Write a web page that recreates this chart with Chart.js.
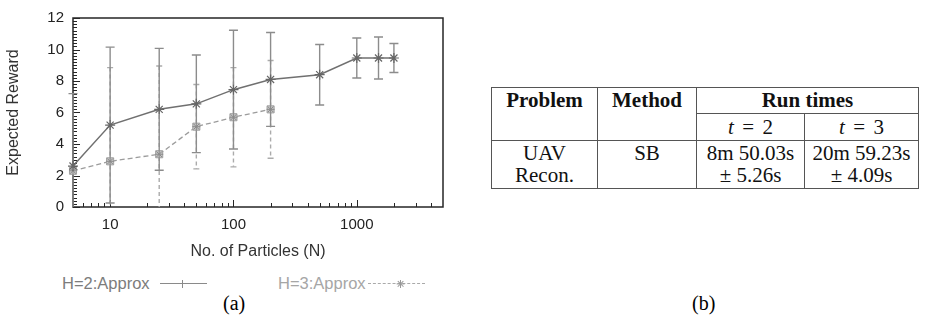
<!DOCTYPE html>
<html>
<head>
<meta charset="utf-8">
<script src="https://cdn.jsdelivr.net/npm/chart.js@4.4.1/dist/chart.umd.min.js"></script>
<style>
body { margin: 0; background: #fff; width: 942px; height: 318px; position: relative; overflow: hidden; font-family: "Liberation Sans", Arial, sans-serif; }
#wrap { position: absolute; left: 0; top: 0; width: 460px; height: 262px; }
.leg { position: absolute; top: 273px; font-size: 16.5px; line-height: 20px; white-space: nowrap; }
.sample { position: absolute; top: 283px; height: 0; }
.mk { position: absolute; width: 1.2px; height: 8px; top: -4px; }
.cap { position: absolute; top: 291px; font-family: "Liberation Serif", "Times New Roman", serif; font-size: 20px; line-height: 24px; }
#tbl { position: absolute; left: 491px; top: 87px; border-collapse: collapse; table-layout: fixed;
       font-family: "Liberation Serif", "Times New Roman", serif; font-size: 21px; color: #111; }
#tbl td, #tbl th { border: 1px solid #555; text-align: center; padding: 0; }
#tbl th { font-weight: bold; vertical-align: top; line-height: 25px; }
#tbl .r2 td { line-height: 26px; }
#tbl .r3 td { vertical-align: top; line-height: 22px; padding: 1px 0 2px; }
.eq { margin: 0 0.4em; }
</style>
</head>
<body>
<div id="wrap"><canvas id="canvasReward"></canvas></div>

<div class="leg" style="left:62px;color:#7c7c7c">H=2:Approx</div>
<div class="sample" style="left:160px;width:47px;border-top:1.5px solid #8a8a8a">
  <span class="mk" style="left:22px;background:#8a8a8a"></span>
</div>
<div class="leg" style="left:278px;color:#a6a6a6">H=3:Approx</div>
<div class="sample" style="left:368px;width:57px;border-top:1.5px dashed #aaa">
  <span class="mk" style="left:32px;background:#999"></span>
  <span class="mk" style="left:32px;background:#999;transform:rotate(45deg)"></span>
  <span class="mk" style="left:32px;background:#999;transform:rotate(90deg)"></span>
  <span class="mk" style="left:32px;background:#999;transform:rotate(135deg)"></span>
</div>

<div class="cap" style="left:223px">(a)</div>
<div class="cap" style="left:692px">(b)</div>

<table id="tbl">
  <colgroup><col style="width:106px"><col style="width:99px"><col style="width:108px"><col style="width:114px"></colgroup>
  <tr style="height:26px"><th rowspan="2">Problem</th><th rowspan="2">Method</th><th colspan="2">Run times</th></tr>
  <tr class="r2" style="height:27px"><td><i>t</i><span class="eq">=</span>2</td><td><i>t</i><span class="eq">=</span>3</td></tr>
  <tr class="r3" style="height:47px"><td>UAV<br>Recon.</td><td>SB</td><td>8m 50.03s<br>± 5.26s</td><td>20m 59.23s<br>± 4.09s</td></tr>
</table>

<script>
// values
var particles = [5, 10, 25, 50, 100, 200, 500, 1000, 1500, 2000];
var rewardH2 = [2.6, 5.2, 6.2, 6.55, 7.45, 8.1, 8.4, 9.46, 9.46, 9.46];
var errH2    = [4.6, 4.95, 3.87, 3.1, 3.77, 2.98, 1.92, 1.27, 1.33, 0.92];
var rewardH3 = [2.3, 2.9, 3.35, 5.1, 5.7, 6.2, null, null, null, null];
var errH3    = [0, 5.95, 5.6, 2.68, 3.15, 3.1, null, null, null, null];

var xTickLabels = [10, 100, 1000];
var xMinorTicks = [6, 7, 8, 9, 20, 30, 40, 50, 60, 70, 80, 90,
                   200, 300, 400, 500, 600, 700, 800, 900, 2000, 3000, 4000];
var yMin = 0, yMax = 12, yStep = 2, yMinorStep = 0.2;

function points(ys) {
    var out = [];
    for (var i = 0; i < particles.length; i++) {
        if (ys[i] !== null) out.push({x: particles[i], y: ys[i]});
    }
    return out;
}

function drawBars(ctx, xs, ys, vals, errs, color, dash, capW) {
    ctx.strokeStyle = color;
    ctx.lineWidth = 1.4;
    for (var i = 0; i < particles.length; i++) {
        if (vals[i] === null || !errs[i]) continue;
        var px = xs.getPixelForValue(particles[i]);
        var top = ys.getPixelForValue(vals[i] + errs[i]);
        var bot = ys.getPixelForValue(vals[i] - errs[i]);
        ctx.setLineDash(dash);
        ctx.beginPath();
        ctx.moveTo(px, top); ctx.lineTo(px, bot);
        ctx.stroke();
        ctx.setLineDash([]);
        ctx.beginPath();
        ctx.moveTo(px - capW, top); ctx.lineTo(px + capW, top);
        ctx.moveTo(px - capW, bot); ctx.lineTo(px + capW, bot);
        ctx.stroke();
    }
}

var frameAndBars = {
    id: 'frameAndBars',
    beforeDatasetsDraw: function(chart) {
        var ctx = chart.ctx, a = chart.chartArea;
        var xs = chart.scales.x, ys = chart.scales.y;
        ctx.save();
        // frame
        ctx.strokeStyle = '#262626';
        ctx.lineWidth = 1.5;
        ctx.strokeRect(a.left, a.top, a.right - a.left, a.bottom - a.top);
        // inward ticks
        ctx.lineWidth = 1;
        ctx.beginPath();
        for (var v = yMin; v <= yMax + 0.001; v += yMinorStep) {
            var py = Math.round(ys.getPixelForValue(v)) + 0.5;
            var major = Math.abs(v / yStep - Math.round(v / yStep)) < 0.01;
            ctx.moveTo(a.left, py); ctx.lineTo(a.left + (major ? 7 : 4), py);
        }
        xTickLabels.forEach(function(t) {
            var px = Math.round(xs.getPixelForValue(t)) + 0.5;
            ctx.moveTo(px, a.bottom); ctx.lineTo(px, a.bottom - 7);
        });
        xMinorTicks.forEach(function(t) {
            var px = Math.round(xs.getPixelForValue(t)) + 0.5;
            ctx.moveTo(px, a.bottom); ctx.lineTo(px, a.bottom - 4);
        });
        ctx.stroke();
        // error bars
        ctx.beginPath();
        ctx.rect(a.left - 8, a.top, a.right - a.left + 16, a.bottom - a.top);
        ctx.clip();
        drawBars(ctx, xs, ys, rewardH3, errH3, '#ababab', [4, 3], 3);
        drawBars(ctx, xs, ys, rewardH2, errH2, '#8c8c8c', [], 4.5);
        ctx.restore();
    }
};

var ctx = document.getElementById('canvasReward').getContext('2d');
new Chart(ctx, {
    type: 'line',
    data: {
        datasets: [
            {
                label: 'H=2:Approx',
                data: points(rewardH2),
                borderColor: '#707070',
                borderWidth: 1.5,
                pointStyle: 'star',
                pointRadius: 5,
                pointBorderColor: '#666',
                pointBorderWidth: 1.2,
                lineTension: 0,
                clip: false
            },
            {
                label: 'H=3 marks',
                data: points(rewardH3),
                showLine: false,
                pointStyle: 'star',
                pointRadius: 4,
                pointBorderColor: '#8a8a8a',
                pointBorderWidth: 1,
                clip: false
            },
            {
                label: 'H=3:Approx',
                data: points(rewardH3),
                borderColor: '#9c9c9c',
                borderWidth: 1.3,
                borderDash: [5, 3],
                pointStyle: 'rect',
                pointRadius: 5,
                pointBackgroundColor: '#c6c6c6',
                pointBorderColor: '#a0a0a0',
                pointBorderWidth: 1,
                lineTension: 0,
                clip: false
            }
        ]
    },
    options: {
        responsive: true,
        maintainAspectRatio: false,
        animation: false,
        layout: { padding: { left: 0, right: 17, top: 10, bottom: 0 } },
        plugins: { legend: { display: false }, tooltip: { enabled: false } },
        scales: {
            x: {
                type: 'logarithmic',
                min: 5,
                max: 5000,
                grid: { display: false, drawTicks: false },
                border: { display: false },
                afterBuildTicks: function(s) {
                    s.ticks = xTickLabels.map(function(v) { return {value: v}; });
                },
                afterFit: function(s) { s.height = 55; },
                ticks: {
                    callback: function(v) { return String(v); },
                    font: { family: 'Liberation Sans', size: 15 },
                    color: '#222',
                    padding: 9,
                    maxRotation: 0,
                    autoSkip: false
                },
                title: {
                    display: true,
                    text: 'No. of Particles (N)',
                    font: { family: 'Liberation Sans', size: 16 },
                    color: '#333',
                    padding: { top: 0, bottom: 1 }
                }
            },
            y: {
                min: yMin,
                max: yMax,
                grid: { display: false, drawTicks: false },
                border: { display: false },
                afterFit: function(s) { s.width = 73; },
                ticks: {
                    stepSize: yStep,
                    font: { family: 'Liberation Sans', size: 15 },
                    color: '#222',
                    padding: 9
                },
                title: {
                    display: true,
                    text: 'Expected Reward',
                    font: { family: 'Liberation Sans', size: 16 },
                    color: '#333',
                    padding: { top: 4, bottom: 0 }
                }
            }
        }
    },
    plugins: [frameAndBars]
});
</script>
</body>
</html>
